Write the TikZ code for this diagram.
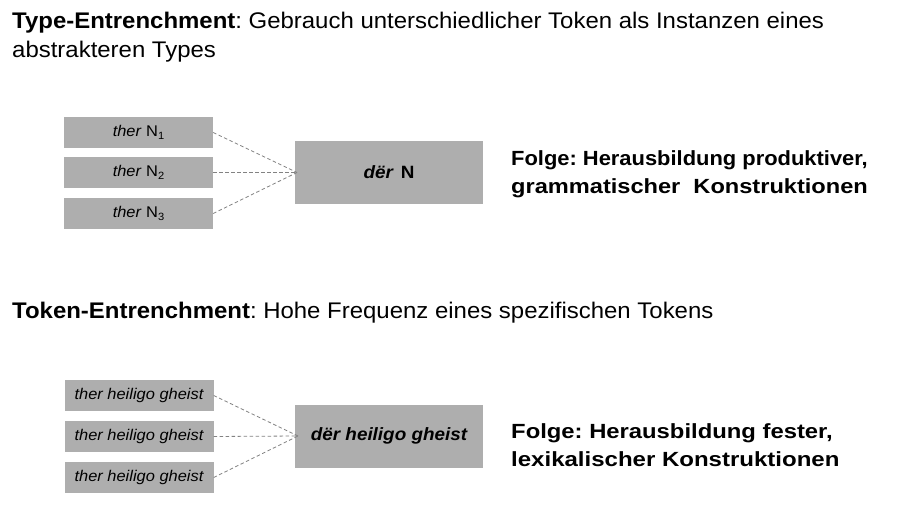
\documentclass[tikz,border=0pt]{standalone}
\usepackage{fontspec}
\setmainfont{Liberation Sans}[FakeStretch=1.06]
\definecolor{boxgray}{RGB}{174,174,174}
\definecolor{linegray}{RGB}{130,130,130}
\newcommand{\subnum}[1]{\raisebox{-0.35ex}{\fontsize{10.5}{11}\selectfont #1}}
\frenchspacing
\begin{document}
\begin{tikzpicture}[x=1pt,y=-1pt,
  small/.style={fill=boxgray,draw=none,minimum width=149pt,minimum height=31pt,inner sep=0pt,font=\fontsize{15.5}{17}\selectfont},
  big/.style={fill=boxgray,draw=none,minimum width=188pt,minimum height=63pt,inner sep=0pt,font=\fontsize{17.8}{20}\selectfont\bfseries},
  conn/.style={draw=linegray,line width=0.8pt,dash pattern=on 3.5pt off 2.5pt},
  head/.style={anchor=base west,inner sep=0pt,font=\fontsize{22.6}{26}\selectfont},
  folge/.style={anchor=base west,inner sep=0pt,font=\fontsize{20.5}{24}\selectfont\bfseries}]
\useasboundingbox[fill=white] (0,0) rectangle (908,511);
% headings
\node[head] (h1) at (12,29) {\textbf{Type-Entrenchment}: Gebrauch unterschiedlicher Token als Instanzen eines};
\node[head] (h1b) at (12,58) {abstrakteren Types};
\node[head] (h2) at (12,318) {\textbf{Token-Entrenchment}: Hohe Frequenz eines spezifischen Tokens};
% top diagram
\node[small] (a1) at (138.5,132.5) {\textit{ther} N\subnum{1}};
\node[small] (a2) at (138.5,172.5) {\textit{ther} N\subnum{2}};
\node[small] (a3) at (138.5,213.5) {\textit{ther} N\subnum{3}};
\node[big] (A) at (389,172.5) {\textit{dër}\hspace{0.4em}N};
\coordinate (ca) at (297,172.5);
\draw[conn] (a1.east) -- (ca);
\draw[conn] (a2.east) -- (ca);
\draw[conn] (a3.east) -- (ca);
\node[folge] (f1) at (511,165) {\scalebox{1.008}[1]{Folge: Herausbildung produktiver,}};
\node[folge] (f1b) at (511,193) {\scalebox{1.086}[1]{grammatischer\ \ Konstruktionen}};
% bottom diagram
\node[small] (b1) at (139,395.5) {\itshape ther heiligo gheist};
\node[small] (b2) at (139,436.5) {\itshape ther heiligo gheist};
\node[small] (b3) at (139,477.5) {\itshape ther heiligo gheist};
\node[big] (B) at (389,436) {\itshape dër heiligo gheist};
\coordinate (cb) at (298,436);
\draw[conn] (b1.east) -- (cb);
\draw[conn] (b2.east) -- (cb);
\draw[conn] (b3.east) -- (cb);
\node[folge] (f2) at (511,438) {\scalebox{1.096}[1]{Folge: Herausbildung fester,}};
\node[folge] (f2b) at (511,466) {\scalebox{1.105}[1]{lexikalischer Konstruktionen}};
\end{tikzpicture}
\end{document}
